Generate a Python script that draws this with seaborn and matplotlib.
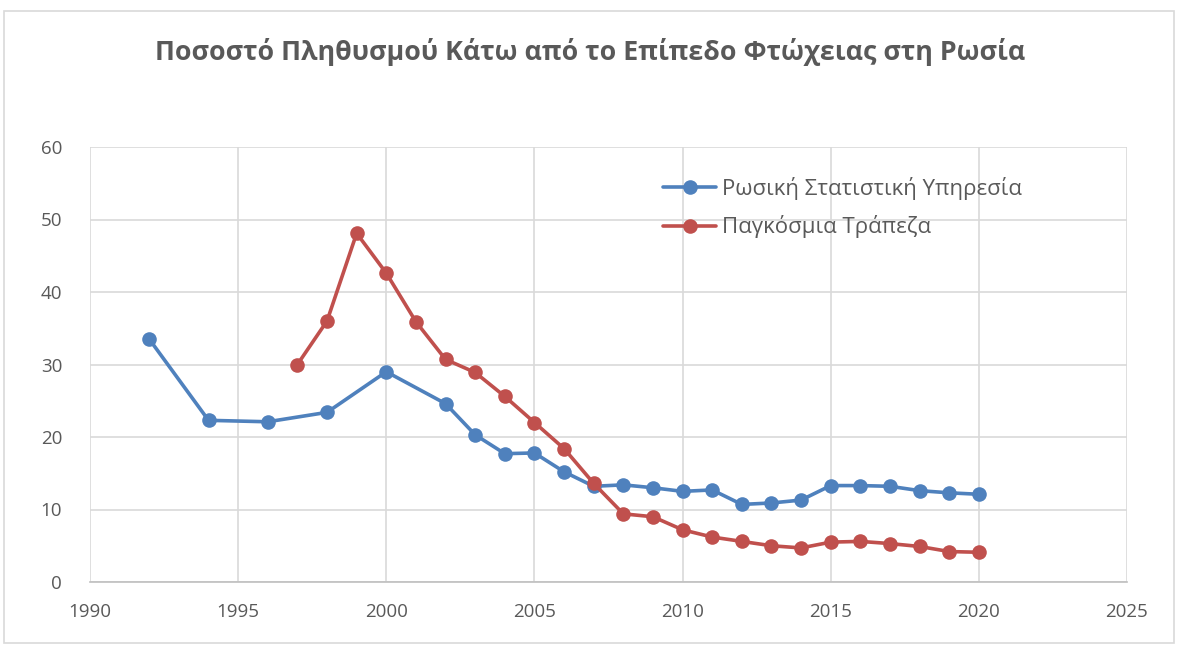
import numpy as np
import pandas as pd
import matplotlib
matplotlib.use("Agg")
import matplotlib.pyplot as plt
import seaborn as sns
from matplotlib.patches import Rectangle

# data
rosstat_years = [1992, 1994, 1996, 1998, 2000, 2002, 2003, 2004, 2005, 2006, 2007, 2008,
                 2009, 2010, 2011, 2012, 2013, 2014, 2015, 2016, 2017, 2018, 2019, 2020]
rosstat_values = [33.5, 22.3, 22.1, 23.4, 29.0, 24.6, 20.3, 17.7, 17.8, 15.2, 13.2, 13.4,
                  13.0, 12.5, 12.7, 10.7, 10.9, 11.3, 13.3, 13.3, 13.2, 12.6, 12.3, 12.1]

wb_years = [1997, 1998, 1999, 2000, 2001, 2002, 2003, 2004, 2005, 2006, 2007, 2008,
            2009, 2010, 2011, 2012, 2013, 2014, 2015, 2016, 2017, 2018, 2019, 2020]
wb_values = [30.0, 36.0, 48.1, 42.6, 35.9, 30.7, 28.9, 25.6, 22.0, 18.4, 13.6, 9.4,
             9.0, 7.2, 6.2, 5.6, 5.0, 4.7, 5.5, 5.6, 5.3, 4.9, 4.2, 4.1]

series_names = ["Ρωσική Στατιστική Υπηρεσία", "Παγκόσμια Τράπεζα"]
series_colors = ["#4f81bd", "#c0504d"]
title = "Ποσοστό Πληθυσμού Κάτω από το Επίπεδο Φτώχειας στη Ρωσία"

df = pd.concat([
    pd.DataFrame({"year": rosstat_years, "value": rosstat_values, "source": series_names[0]}),
    pd.DataFrame({"year": wb_years, "value": wb_values, "source": series_names[1]}),
])

sns.set_style("white")
plt.rcParams["font.family"] = ["Open Sans", "DejaVu Sans"]
text_gray = "#595959"
grid_gray = "#d9d9d9"

fig = plt.figure(figsize=(11.8, 6.45), dpi=100)
ax = fig.add_axes([90 / 1180, 1 - 582 / 645, 1037 / 1180, 435 / 645])

sns.lineplot(data=df, x="year", y="value", hue="source", hue_order=series_names,
             palette=series_colors, marker="o", markersize=10.5, markeredgewidth=0,
             linewidth=2.6, ax=ax)

ax.set_xlim(1990, 2025)
ax.set_ylim(0, 60)
ax.set_xticks(np.arange(1990, 2026, 5))
ax.set_yticks(np.arange(0, 61, 10))
ax.grid(True, color=grid_gray, linewidth=1.2)
ax.set_axisbelow(True)
for side in ["top", "right", "left"]:
    ax.spines[side].set_visible(False)
ax.spines["bottom"].set_color("#bfbfbf")
ax.spines["bottom"].set_linewidth(1.2)
ax.tick_params(axis="both", length=0, labelsize=13.5, labelcolor=text_gray)
ax.tick_params(axis="x", pad=15)
ax.tick_params(axis="y", pad=20)
ax.set_xlabel("")
ax.set_ylabel("")

leg = ax.legend(loc="upper left", bbox_to_anchor=(0.544, 0.952), frameon=False,
                fontsize=16, handlelength=2.4, handletextpad=0.25, labelspacing=0.7,
                borderaxespad=0)
for t in leg.get_texts():
    t.set_color(text_gray)

fig.text(0.5, 1 - 52 / 645, title, ha="center", va="center", fontsize=19.3,
         fontweight="bold", color=text_gray)

fig.patches.append(Rectangle((4 / 1180, 0.003), 1 - 10 / 1180, 1 - 13 / 645,
                             transform=fig.transFigure, fill=False,
                             edgecolor=grid_gray, linewidth=1.2))

fig.savefig("out.png", dpi=100)
